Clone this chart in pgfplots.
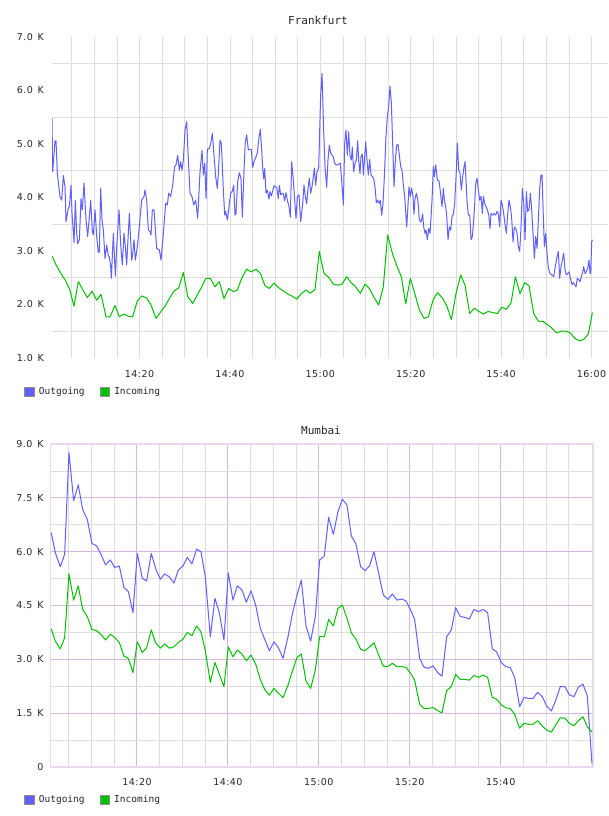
\documentclass[border=0pt]{standalone}
\usepackage{fontspec}
\usepackage{pgfplots}
\pgfplotsset{compat=1.18}
\newfontfamily\tickfont[LetterSpace=5]{DejaVu Sans}
\newfontfamily\monofont{DejaVu Sans Mono}
\definecolor{outblue}{RGB}{96,96,255}
\definecolor{ingreen}{RGB}{0,192,0}
\definecolor{gridgray}{RGB}{221,221,221}
\definecolor{gridpink}{RGB}{214,184,222}
\definecolor{framepink}{RGB}{234,216,238}

% x: minutes after 14:00, y: thousands
\pgfplotsset{
  traffic/.style={
    scale only axis, anchor=south west,
    tick style={draw=none},
    major tick length=0pt, minor tick length=0pt,
    ticklabel style={font=\fontsize{9.5}{10}\selectfont\tickfont, text=black!85, inner sep=0pt},
    legend columns=2,
    legend style={draw=none, fill=none, inner sep=0pt, outer sep=0pt, anchor=north west,
      font=\fontsize{9.5}{11}\selectfont\monofont, text=black!85,
      nodes={inner sep=0pt},
      /tikz/every odd column/.append style={column sep=4.5pt},
      /tikz/every even column/.append style={column sep=15pt}},
    legend image code/.code={\filldraw[##1, draw=black!45, line width=0.7pt] (0pt,-4.6pt) rectangle (9.4pt,4.6pt);},
    every axis plot/.append style={line width=1pt, line join=round, mark=none},
  }
}

\begin{document}
\begin{tikzpicture}
\useasboundingbox[fill=white] (0pt,0pt) rectangle (608pt,816pt);

\node[font=\fontsize{11}{12}\selectfont\monofont, text=black!85] at (318pt,796pt) {Frankfurt};
\node[font=\fontsize{11}{12}\selectfont\monofont, text=black!85] at (321pt,386pt) {Mumbai};

% ---------------- Frankfurt ----------------
\begin{axis}[traffic,
  at={(52pt,458pt)}, width=556pt, height=321pt,
  xmin=0.64, xmax=123.65, ymin=1, ymax=7,
  axis line style={draw=none},
  xtick={20,40,60,80,100,120},
  xticklabels={14:20,14:40,15:00,15:20,15:40,16:00},
  minor xtick={5,10,15,25,30,35,45,50,55,65,70,75,85,90,95,105,110,115},
  ytick={1,2,3,4,5,6,7},
  yticklabels={1.0\enspace K,2.0\enspace K,3.0\enspace K,4.0\enspace K,5.0\enspace K,6.0\enspace K,7.0\enspace K},
  minor ytick={1.5,2.5,3.5,4.5,5.5,6.5},
  xmajorgrids, xminorgrids, yminorgrids,
  major grid style={draw=gridgray, line width=0.8pt},
  minor grid style={draw=gridgray, line width=0.8pt},
  yticklabel style={anchor=east, xshift=-8pt},
  xticklabel style={anchor=north, yshift=-12pt},
  legend style={at={(-0.0498,-0.0894)}},
]
\addplot[outblue] table {
0.64 5.48
0.79 4.48
1.31 5.06
1.53 5.06
1.82 4.45
2.41 4.02
2.78 3.95
3.15 4.41
3.52 4.20
3.74 3.55
4.26 3.80
4.48 3.83
4.85 4.23
5.07 3.70
5.51 3.16
5.81 3.95
6.10 3.33
6.32 3.14
6.69 3.21
7.06 3.98
7.35 3.77
7.72 4.27
8.17 3.58
8.53 3.27
8.90 3.64
9.20 3.95
9.57 3.36
9.79 3.30
10.16 3.77
10.53 3.27
10.89 2.97
11.12 2.99
11.41 4.17
11.71 3.58
12.00 3.39
12.37 2.86
12.74 3.11
13.11 2.91
13.33 2.89
13.62 2.71
13.77 2.49
14.21 3.33
14.66 2.53
14.95 3.08
15.47 3.77
15.84 3.11
16.20 2.74
16.57 3.33
16.87 3.08
17.16 2.74
17.75 3.70
18.27 2.83
18.49 2.93
18.79 3.21
19.08 2.83
19.52 3.08
19.97 3.46
20.48 3.95
21.00 4.02
21.22 4.14
21.59 3.95
21.96 3.39
22.33 3.36
22.55 3.30
22.84 3.77
23.21 3.77
23.80 3.05
24.39 3.02
24.76 2.83
25.28 3.33
25.79 3.89
26.16 3.86
26.46 4.08
26.90 4.02
27.34 4.23
27.78 4.58
28.08 4.61
28.45 4.79
28.82 4.51
29.11 4.67
29.41 4.51
29.70 4.70
30.07 5.26
30.44 5.42
30.81 4.70
31.18 4.08
31.62 4.02
31.99 3.86
32.43 3.95
32.87 3.61
33.39 4.48
33.83 4.88
34.13 4.42
34.42 4.64
34.72 3.98
35.01 4.90
35.45 4.92
35.75 5.01
36.12 5.20
36.56 4.70
36.85 4.39
37.22 4.17
37.44 4.45
37.81 5.07
38.11 5.01
38.55 4.14
38.85 3.67
39.07 3.74
39.44 3.58
39.80 3.83
40.17 4.08
40.54 4.12
40.84 4.23
41.13 3.67
41.35 3.70
41.72 4.30
42.09 4.46
42.45 4.36
42.75 3.63
43.12 4.51
43.41 5.04
43.71 5.17
44.08 4.89
44.45 4.90
44.74 4.90
45.03 4.56
45.33 4.67
45.77 4.76
46.07 4.83
46.36 5.07
46.73 5.27
47.03 4.89
47.25 4.55
47.47 4.35
47.69 4.54
47.99 4.08
48.28 4.14
48.65 3.97
48.87 4.11
49.17 4.03
49.46 4.12
49.76 4.22
50.05 4.20
50.35 4.19
50.71 3.98
50.94 4.23
51.23 4.05
51.53 4.08
51.82 4.07
52.11 3.94
52.41 4.09
52.71 3.95
53.07 3.83
53.37 3.63
53.66 4.67
54.03 4.33
54.33 3.95
54.62 3.61
54.92 4.02
55.29 4.05
55.66 3.55
56.10 3.89
56.39 4.23
56.69 4.02
56.98 3.88
57.28 4.17
57.57 4.36
57.87 4.08
58.16 4.20
58.46 4.39
58.68 4.55
58.97 4.23
59.27 4.48
59.64 4.55
60.08 5.92
60.38 6.32
60.74 5.26
61.04 4.58
61.41 4.19
61.70 4.70
62.00 4.98
62.29 4.83
62.59 4.79
62.88 4.76
63.18 4.64
63.47 4.61
63.84 4.61
64.14 4.63
64.43 4.64
64.80 4.23
65.10 3.86
65.39 5.01
65.68 5.26
65.98 4.79
66.27 5.23
66.57 4.79
66.86 4.70
67.09 4.94
67.38 4.48
67.68 4.64
67.97 4.70
68.27 5.06
68.49 4.70
68.78 4.45
69.00 4.76
69.30 4.81
69.52 4.42
69.82 4.76
70.04 5.04
70.33 4.70
70.63 4.42
70.92 4.71
71.22 4.42
71.51 4.39
71.81 4.36
72.10 4.20
72.40 3.90
72.69 3.95
72.99 3.89
73.28 3.95
73.58 3.67
73.87 3.89
74.17 4.39
74.53 5.14
74.83 5.51
75.13 5.70
75.42 6.08
75.72 5.76
76.01 5.01
76.31 4.20
76.60 4.70
76.90 4.98
77.19 4.99
77.49 4.79
77.78 4.58
78.08 4.51
78.37 4.23
78.67 4.02
79.11 3.45
79.33 3.75
79.62 4.20
79.92 4.02
80.21 4.17
80.51 4.02
80.73 3.69
80.96 3.98
81.25 4.08
81.62 3.92
81.91 3.58
82.28 3.54
82.65 3.69
82.87 3.45
83.17 3.33
83.39 3.39
83.68 3.21
83.98 3.42
84.28 3.33
84.72 3.95
85.01 4.58
85.23 4.39
85.53 4.61
85.90 4.33
86.27 4.31
86.56 4.11
86.93 3.83
87.23 4.17
87.45 3.95
87.74 3.83
87.96 3.67
88.26 3.21
88.55 3.45
88.85 3.39
89.14 3.64
89.44 3.69
89.73 3.89
90.10 4.51
90.32 5.02
90.62 4.51
90.91 4.45
91.21 4.14
91.50 4.39
91.80 4.58
92.02 4.67
92.24 4.33
92.46 3.92
92.76 3.67
93.05 3.67
93.35 3.21
93.64 3.27
93.94 3.58
94.16 3.89
94.38 4.26
94.67 4.36
94.97 4.14
95.26 3.95
95.56 4.02
95.85 3.70
96.08 4.02
96.37 3.89
96.67 3.83
96.96 3.77
97.26 3.67
97.55 3.42
97.77 3.70
98.14 3.67
98.44 3.70
98.80 3.67
99.10 3.74
99.39 3.70
99.69 3.45
99.98 3.95
100.28 3.86
100.57 3.70
100.87 3.49
101.16 3.33
101.46 3.70
101.75 3.95
102.05 3.83
102.34 3.61
102.64 3.17
102.93 3.45
103.23 3.42
103.52 3.33
103.82 3.08
104.11 2.99
104.41 3.45
104.70 4.17
105.00 3.89
105.29 3.21
105.59 4.11
105.88 3.74
106.18 3.77
106.47 4.08
106.77 3.77
107.06 3.33
107.36 2.86
107.65 3.27
107.95 3.05
108.24 3.58
108.54 4.17
108.83 4.42
109.06 4.42
109.28 3.80
109.57 3.08
109.87 3.33
110.16 2.96
110.46 2.68
110.83 2.58
111.27 2.55
111.64 2.52
112.00 2.71
112.37 2.89
112.67 2.99
112.96 2.49
113.26 2.71
113.55 2.83
113.85 2.96
114.14 2.65
114.44 2.55
114.73 2.58
115.03 2.61
115.32 2.49
115.69 2.37
115.99 2.41
116.28 2.37
116.58 2.33
116.87 2.49
117.17 2.46
117.46 2.43
117.76 2.52
118.05 2.61
118.27 2.71
118.57 2.58
118.86 2.61
119.16 2.68
119.45 2.83
119.68 2.58
119.82 2.58
120.04 3.17
120.20 3.21
};
\addlegendentry{Outgoing}
\addplot[ingreen] table {
0.64 2.91
1.53 2.74
2.41 2.61
3.52 2.46
4.48 2.30
5.51 1.97
6.47 2.43
7.43 2.28
8.46 2.13
9.49 2.25
10.53 2.08
11.48 2.19
12.59 1.77
13.48 1.77
14.58 1.98
15.54 1.77
16.57 1.82
17.53 1.78
18.49 1.77
19.52 2.07
20.55 2.16
21.59 2.12
22.55 1.99
23.65 1.74
24.76 1.87
25.79 1.99
26.75 2.13
27.63 2.25
28.67 2.31
29.70 2.60
30.66 2.15
31.77 2.02
32.80 2.18
33.76 2.33
34.72 2.49
35.67 2.49
36.71 2.33
37.66 2.43
38.70 2.11
39.73 2.30
40.76 2.24
41.64 2.27
42.60 2.49
43.71 2.66
44.74 2.61
45.77 2.66
46.77 2.58
47.76 2.35
48.72 2.30
49.76 2.40
50.71 2.32
51.82 2.25
52.93 2.19
53.88 2.15
54.77 2.10
55.88 2.21
56.83 2.27
57.79 2.21
58.83 2.28
59.78 2.99
60.82 2.58
61.85 2.51
62.88 2.38
63.84 2.36
64.80 2.38
65.83 2.52
66.79 2.41
67.82 2.33
68.86 2.21
69.89 2.38
70.85 2.30
71.88 2.13
72.91 1.99
73.94 2.33
74.90 3.30
75.94 2.96
76.97 2.71
77.93 2.52
78.89 2.01
79.92 2.49
80.88 2.21
81.92 1.90
82.95 1.74
83.91 1.77
85.01 2.10
85.97 2.22
87.00 2.12
87.96 1.98
89.00 1.72
90.03 2.21
91.06 2.55
92.02 2.36
93.05 1.83
94.08 1.93
95.12 1.87
96.08 1.82
97.11 1.87
98.14 1.85
99.17 1.83
100.13 1.95
101.16 1.91
102.20 2.03
103.16 2.52
104.19 2.20
105.22 2.41
106.18 2.35
107.21 1.83
108.24 1.69
109.28 1.68
110.31 1.62
111.30 1.55
112.30 1.47
113.30 1.50
114.30 1.50
115.30 1.47
116.30 1.37
117.30 1.32
118.30 1.35
119.30 1.45
120.20 1.85
};
\addlegendentry{Incoming}
\end{axis}

% ---------------- Mumbai ----------------
\begin{axis}[traffic,
  at={(50.7pt,49pt)}, width=542.3pt, height=323pt,
  xmin=1.02, xmax=120.31, ymin=0, ymax=9,
  axis line style={draw=framepink, line width=1.5pt},
  xtick={20,40,60,80,100},
  xticklabels={14:20,14:40,15:00,15:20,15:40},
  minor xtick={5,10,15,25,30,35,45,50,55,65,70,75,85,90,95,105,110,115},
  ytick={0,1.5,3,4.5,6,7.5,9},
  yticklabels={0,1.5\enspace K,3.0\enspace K,4.5\enspace K,6.0\enspace K,7.5\enspace K,9.0\enspace K},
  minor ytick={0.75,2.25,3.75,5.25,6.75,8.25},
  grid=both,
  major grid style={draw=gridpink, line width=1pt},
  minor grid style={draw=gridgray, line width=0.8pt},
  yticklabel style={anchor=east, xshift=-7pt},
  xticklabel style={anchor=north, yshift=-11pt},
  legend style={at={(-0.0487,-0.0867)}},
]
\addplot[outblue] table {
1.15 6.53
2.03 5.97
3.13 5.58
4.09 5.93
5.04 8.76
6.07 7.42
7.09 7.86
8.04 7.18
9.07 6.90
10.10 6.23
11.12 6.16
12.15 5.91
13.10 5.63
14.13 5.77
15.08 5.56
16.11 5.60
17.14 5.00
18.09 4.89
19.12 4.30
20.07 5.95
21.17 5.26
22.12 5.18
23.15 5.95
24.10 5.53
25.13 5.23
26.08 5.38
27.11 5.30
28.13 5.12
29.09 5.49
30.11 5.60
31.07 5.84
32.09 5.66
33.12 6.07
34.07 6.00
35.03 5.30
36.13 3.63
37.15 4.70
38.11 4.30
39.13 3.54
40.09 5.41
41.11 4.65
42.07 5.05
43.10 4.93
44.05 4.59
45.08 4.91
46.11 4.51
47.13 3.86
48.09 3.56
49.11 3.24
50.14 3.49
51.16 3.31
52.12 3.03
53.22 3.63
54.17 4.26
55.20 4.79
56.15 5.21
57.18 3.93
58.20 3.51
59.23 4.19
60.18 5.77
61.21 5.88
62.16 6.96
63.19 6.48
64.21 7.11
65.17 7.46
66.20 7.30
67.15 6.44
68.18 6.21
69.20 5.58
70.15 5.47
71.18 5.61
72.13 6.00
73.16 5.40
74.19 4.79
75.21 4.67
76.17 4.82
77.19 4.65
78.22 4.68
79.17 4.63
80.20 4.37
81.08 4.11
82.18 3.03
83.13 2.78
84.16 2.75
85.11 2.82
86.14 2.63
87.09 2.53
88.12 3.63
89.14 3.82
90.10 4.44
91.12 4.19
92.15 4.17
93.10 4.12
94.13 4.39
95.15 4.33
96.11 4.39
97.13 4.30
98.16 3.29
99.11 3.21
100.14 2.91
101.09 2.80
102.12 2.77
103.07 2.50
104.17 1.68
105.13 1.94
106.15 1.91
107.10 1.91
108.13 2.08
109.16 1.96
110.11 1.70
111.14 1.56
112.09 1.85
113.12 2.24
114.14 2.24
115.10 2.01
116.12 1.96
117.08 2.22
118.10 2.31
119.06 1.98
120.08 0.10
};
\addlegendentry{Outgoing}
\addplot[ingreen] table {
1.15 3.85
2.03 3.51
3.13 3.29
4.09 3.60
5.04 5.38
6.07 4.65
7.09 5.05
8.04 4.39
9.07 4.19
10.10 3.83
11.12 3.80
12.15 3.68
13.10 3.54
14.13 3.70
15.08 3.61
16.11 3.47
17.14 3.09
18.09 3.03
19.12 2.63
20.07 3.49
21.17 3.19
22.12 3.32
23.15 3.82
24.10 3.46
25.13 3.31
26.08 3.43
27.11 3.31
28.13 3.35
29.09 3.47
30.11 3.56
31.07 3.75
32.09 3.66
33.12 3.93
34.07 3.77
35.03 3.24
36.13 2.36
37.15 2.91
38.11 2.58
39.13 2.24
40.09 3.35
41.11 3.07
42.07 3.26
43.10 3.15
44.05 2.96
45.08 3.12
46.11 2.87
47.13 2.44
48.09 2.16
49.11 2.00
50.14 2.19
51.16 2.05
52.12 1.93
53.22 2.28
54.17 2.67
55.20 3.05
56.15 3.15
57.18 2.40
58.20 2.19
59.23 2.70
60.18 3.63
61.21 3.63
62.16 4.11
63.19 3.93
64.21 4.42
65.17 4.51
66.20 4.14
67.15 3.74
68.18 3.56
69.20 3.28
70.15 3.24
71.18 3.35
72.13 3.46
73.16 3.12
74.19 2.81
75.21 2.80
76.17 2.89
77.19 2.80
78.22 2.80
79.17 2.77
80.20 2.61
81.08 2.42
82.18 1.75
83.13 1.63
84.16 1.63
85.11 1.66
86.14 1.57
87.09 1.51
88.12 2.13
89.14 2.24
90.10 2.58
91.12 2.44
92.15 2.44
93.10 2.42
94.13 2.55
95.15 2.50
96.11 2.56
97.13 2.50
98.16 1.94
99.11 1.89
100.14 1.73
101.09 1.65
102.12 1.63
103.07 1.47
104.17 1.08
105.13 1.22
106.15 1.19
107.10 1.19
108.13 1.29
109.16 1.14
110.11 1.03
111.14 0.97
112.09 1.17
113.12 1.37
114.14 1.36
115.10 1.22
116.12 1.15
117.08 1.29
118.10 1.40
119.06 1.12
120.08 0.98
};
\addlegendentry{Incoming}
\end{axis}
\end{tikzpicture}
\end{document}
